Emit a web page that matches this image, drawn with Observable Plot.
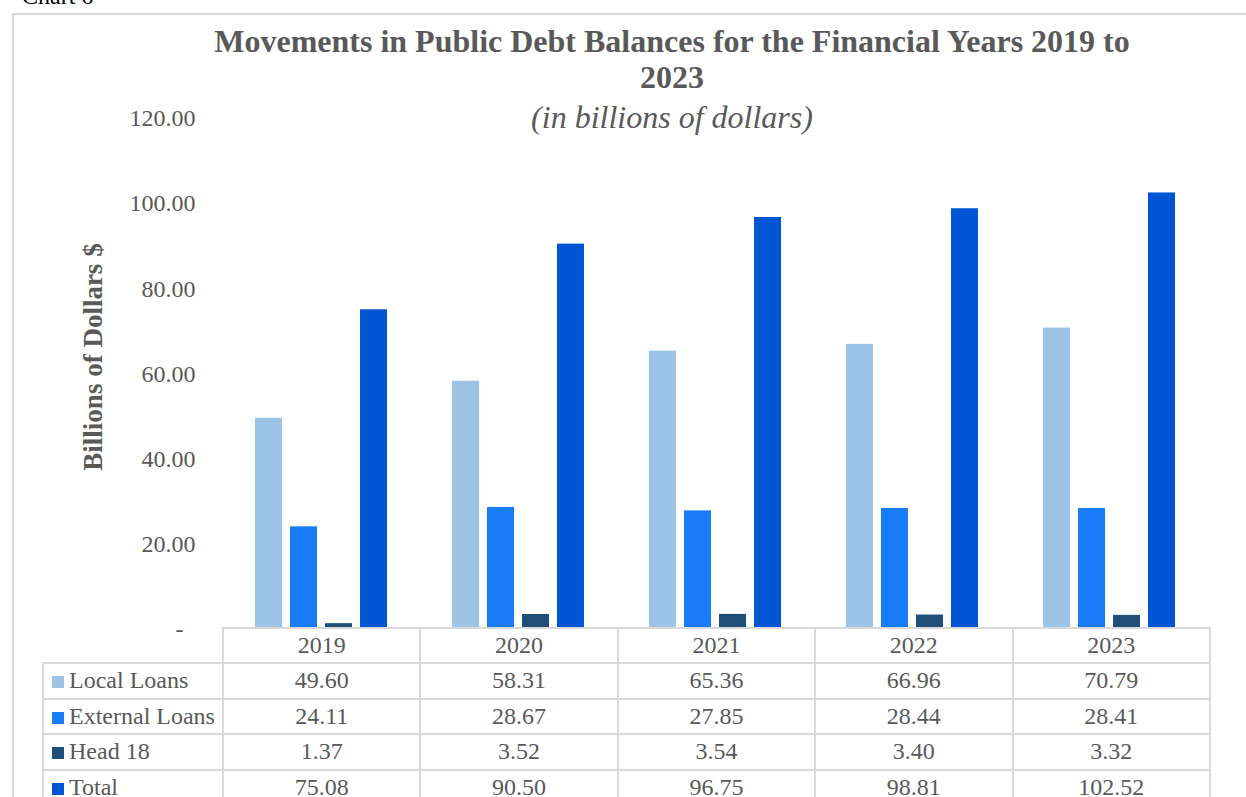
<!DOCTYPE html>
<html><head><meta charset="utf-8">
<script src="https://cdn.jsdelivr.net/npm/d3@7"></script>
<script src="https://cdn.jsdelivr.net/npm/@observablehq/plot@0.6"></script>
<style>
body{margin:0;background:#fff;}
#wrap{position:relative;width:1246px;height:797px;overflow:hidden;font-family:"Liberation Serif","Times New Roman",serif;color:#595959;}
#chartno{position:absolute;left:22px;top:-16px;font-size:24px;line-height:24px;color:#000;}
#frame{position:absolute;left:12px;top:13px;width:1260px;height:820px;border:2px solid #d9d9d9;box-sizing:border-box;}
#title{position:absolute;left:0;width:1344px;top:23px;text-align:center;font-size:32px;font-weight:bold;line-height:36px;color:#595959;}
#subtitle{position:absolute;left:0;width:1344px;top:99px;text-align:center;font-size:32px;font-style:italic;line-height:36px;color:#595959;}
#plot{position:absolute;left:0;top:0;}
#tbl{position:absolute;left:42px;top:627px;border-collapse:collapse;table-layout:fixed;width:1167px;font-size:24px;color:#595959;}
#tbl td{border:2px solid #d9d9d9;text-align:center;padding:0;height:33.5px;line-height:33px;white-space:nowrap;overflow:hidden;}
#tbl tr.hdr td{height:32px;}
#tbl td.lab{text-align:left;padding-left:8px;}
#tbl td.blank{border-top:none;border-left:none;}
.sw{display:inline-block;width:12px;height:12px;margin-right:5px;vertical-align:0px;}
</style></head><body>
<div id="wrap">
 <div id="chartno">Chart 6</div>
 <div id="frame"></div>
 <div id="plot"></div>
 <div id="title">Movements in Public Debt Balances for the Financial Years 2019 to<br>2023</div>
 <div id="subtitle">(in billions of dollars)</div>
 <table id="tbl"></table>
</div>
<script>
const years = ["2019", "2020", "2021", "2022", "2023"];
const series = ["Local Loans", "External Loans", "Head 18", "Total"];
const localLoans = [49.60, 58.31, 65.36, 66.96, 70.79];
const externalLoans = [24.11, 28.67, 27.85, 28.44, 28.41];
const head18 = [1.37, 3.52, 3.54, 3.40, 3.32];
const total = [75.08, 90.50, 96.75, 98.81, 102.52];
const colors = ["#9DC3E6", "#177CF5", "#1F4E79", "#0055D4"];
const yTicks = [0, 20, 40, 60, 80, 100, 120];
const yLabel = "Billions of Dollars $";

const seriesValues = [localLoans, externalLoans, head18, total];
const data = [];
years.forEach((yr, i) => seriesValues.forEach((arr, j) => data.push({year: yr, series: series[j], value: arr[i]})));

const chart = Plot.plot({
  width: 1246,
  height: 640,
  marginTop: 118,
  marginBottom: 11,
  marginLeft: 222,
  marginRight: 37,
  fx: {domain: years, paddingInner: 0.314, paddingOuter: 0.157, axis: null, label: null},
  x: {domain: series, paddingInner: 0.22, paddingOuter: 0, axis: null, label: null},
  y: {domain: [0, 120], axis: null},
  color: {domain: series, range: colors},
  style: {fontFamily: '"Liberation Serif","Times New Roman",serif', fontSize: "24px", color: "#595959", background: "transparent", overflow: "visible"},
  marks: [
    Plot.barY(data, {fx: "year", x: "series", y: "value", fill: "series"}),
    Plot.axisY(yTicks, {anchor: "left", tickSize: 0, tickPadding: 59, fontSize: 24, label: null,
      tickFormat: d => d === 0 ? "-\u00a0\u00a0" : d.toFixed(2)}),
    Plot.text([{year: years[0], t: yLabel}], {fx: "year", text: "t", frameAnchor: "left", textAnchor: "middle", rotate: -90, dx: -161, dy: -17, fontWeight: "bold", fontSize: 27, fill: "#595959"})
  ]
});
document.getElementById("plot").appendChild(chart);

// data table
const tbl = document.getElementById("tbl");
const cg = document.createElement("colgroup");
[180, ...years.map(() => 197.4)].forEach(w => { const c = document.createElement("col"); c.style.width = w + "px"; cg.appendChild(c); });
tbl.appendChild(cg);
const hdr = document.createElement("tr"); hdr.className = "hdr";
const b = document.createElement("td"); b.className = "blank"; hdr.appendChild(b);
years.forEach(y => { const td = document.createElement("td"); td.textContent = y; hdr.appendChild(td); });
tbl.appendChild(hdr);
series.forEach((s, j) => {
  const tr = document.createElement("tr");
  const lab = document.createElement("td"); lab.className = "lab";
  const sw = document.createElement("span"); sw.className = "sw"; sw.style.background = colors[j];
  lab.appendChild(sw); lab.appendChild(document.createTextNode(s));
  tr.appendChild(lab);
  seriesValues[j].forEach(v => { const td = document.createElement("td"); td.textContent = v.toFixed(2); tr.appendChild(td); });
  tbl.appendChild(tr);
});
</script>
</body></html>
